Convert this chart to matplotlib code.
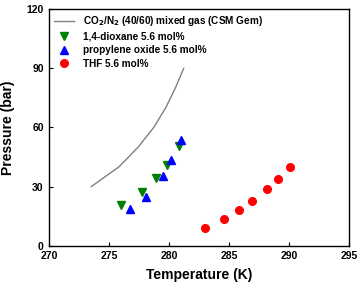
import matplotlib
matplotlib.use("Agg")
import matplotlib.pyplot as plt

plt.rcParams['font.family'] = ['Liberation Sans', 'DejaVu Sans']
plt.rcParams['font.weight'] = 'bold'
plt.rcParams['mathtext.default'] = 'bf'

curve_T = [273.5, 275.8, 277.4, 278.7, 279.7, 280.5, 281.2]
curve_P = [30, 40, 50, 60, 70, 80, 90]

diox_T = [275.95, 277.75, 278.9, 279.8, 280.8]
diox_P = [20.7, 27.1, 34.5, 41.1, 50.8]

po_T = [276.75, 278.06, 279.45, 280.14, 280.97]
po_P = [18.5, 24.6, 35.5, 43.3, 53.5]

thf_T = [282.95, 284.53, 285.83, 286.87, 288.14, 289.06, 290.06]
thf_P = [9.0, 13.7, 18.1, 22.5, 28.6, 33.9, 40.1]

fig = plt.figure(figsize=(3.59, 2.85), dpi=100)
ax = fig.add_axes([49.3/359, 1-245.7/285, 300/359, 236.4/285])

ax.plot(curve_T, curve_P, color='#808080', lw=1.0,
        label=r'CO$_2$/N$_2$ (40/60) mixed gas (CSM Gem)')
ax.plot(diox_T, diox_P, 'v', color='#008000', ms=5.5, ls='none',
        label='1,4-dioxane 5.6 mol%')
ax.plot(po_T, po_P, '^', color='#0000ff', ms=5.5, ls='none',
        label='propylene oxide 5.6 mol%')
ax.plot(thf_T, thf_P, 'o', color='#ff0000', ms=5.5, ls='none',
        label='THF 5.6 mol%')

ax.set_xlim(270, 295)
ax.set_ylim(0, 120)
ax.set_xticks([270, 275, 280, 285, 290, 295])
ax.set_yticks([0, 30, 60, 90, 120])
ax.tick_params(direction='in', length=3, labelsize=7.5, width=0.8, pad=4)
for lab in ax.get_xticklabels() + ax.get_yticklabels():
    lab.set_fontweight('bold')
for s in ax.spines.values():
    s.set_linewidth(1.0)

ax.set_xlabel('Temperature (K)', fontsize=10, fontweight='bold', labelpad=5)
ax.set_ylabel('Pressure (bar)', fontsize=10, fontweight='bold', labelpad=8)

leg = ax.legend(loc='upper left', frameon=False,
                handlelength=2.0, handletextpad=0.9, labelspacing=0.35,
                borderaxespad=0.2, borderpad=0.3,
                prop={'weight': 'bold', 'size': 7.2})

fig.savefig('out.png', dpi=100)
